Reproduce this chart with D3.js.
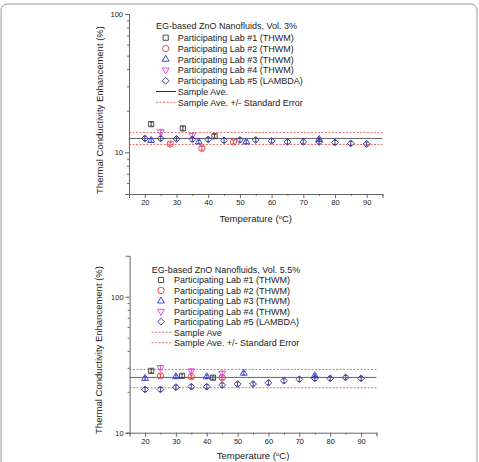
<!DOCTYPE html>
<html>
<head>
<meta charset="utf-8">
<script src="https://cdn.jsdelivr.net/npm/d3@7"></script>
<style>
  body { margin: 0; background: #fff; }
  svg { display: block; font-family: Arial, "Liberation Sans", sans-serif; }
</style>
</head>
<body>
<svg width="479" height="462"></svg>
<script>
// ---- data: Vol. 3% panel ----
const lab1Temp3 = [22, 32, 42];
const lab1Val3 = [16.0, 14.9, 13.1];
const lab2Temp3 = [28, 38, 48];
const lab2Val3 = [11.5, 10.7, 11.9];
const lab3Temp3 = [22, 37, 52, 75];
const lab3Val3 = [12.2, 11.9, 11.9, 12.4];
const lab4Temp3 = [25, 35];
const lab4Val3 = [14.1, 13.3];
const lab5Temp3 = [20, 25, 30, 35, 40, 45, 50, 55, 60, 65, 70, 75, 80, 85, 90];
const lab5Val3 = [12.6, 12.6, 12.5, 12.4, 12.4, 12.2, 12.3, 12.3, 12.1, 11.9, 11.9, 11.9, 11.8, 11.6, 11.5];
const lines3 = [12.6, 13.9, 11.4]; // ave, +SE, -SE

// ---- data: Vol. 5.5% panel ----
const lab1Temp55 = [22, 32, 42];
const lab1Val55 = [28.5, 26.2, 25.4];
const lab2Temp55 = [25, 35, 45];
const lab2Val55 = [26.2, 25.8, 25.4];
const lab3Temp55 = [20, 30, 40, 52, 75];
const lab3Val55 = [25.1, 25.8, 25.8, 27.4, 26.2];
const lab4Temp55 = [25, 35, 45];
const lab4Val55 = [30.1, 28.5, 27.4];
const lab5Temp55 = [20, 25, 30, 35, 40, 45, 50, 55, 60, 65, 70, 75, 80, 85, 90];
const lab5Val55 = [20.8, 20.8, 21.6, 21.8, 21.8, 22.4, 22.8, 22.8, 23.3, 24.1, 24.7, 25.1, 25.1, 25.5, 25.1];
const lines55 = [25.5, 29.2, 21.4];

const labNames = [
  "Participating Lab #1 (THWM)",
  "Participating Lab #2 (THWM)",
  "Participating Lab #3 (THWM)",
  "Participating Lab #4 (THWM)",
  "Participating Lab #5 (LAMBDA)"
];
const xTicks = [20, 30, 40, 50, 60, 70, 80, 90];

const svg = d3.select("svg");
const colors = ["#3a3a3a", "#e8383c", "#3535d0", "#e040e0", "#33338f"];
const symbols = [d3.symbolSquare2, d3.symbolCircle, d3.symbolTriangle2, d3.symbolTriangle2, d3.symbolDiamond2];
const symSizes = [34, 32, 34, 34, 30];
const errFrac = [0.03, 0.03, 0.03, 0.03, 0.035];

// outer frame
svg.append("rect")
  .attr("x", 1).attr("y", 4)
  .attr("width", 476).attr("height", 480)
  .attr("rx", 6)
  .attr("fill", "none")
  .attr("stroke", "#9a9a9a")
  .attr("stroke-width", 1);

function marker(g, i, x, y) {
  g.append("path")
    .attr("d", d3.symbol().type(symbols[i]).size(symSizes[i])())
    .attr("fill", "none")
    .attr("stroke", colors[i])
    .attr("stroke-width", 0.9)
    .attr("transform", `translate(${x},${y})` + (i === 3 ? " rotate(180)" : ""));
}

function drawPanel(cfg) {
  const x = d3.scaleLinear().domain([15, 95]).range(cfg.xRange);
  const y = d3.scaleLog().domain(cfg.yDomain).range(cfg.yRange);
  const g = svg.append("g");
  const axisColor = "#666";

  // reference lines
  cfg.lines.forEach((v, k) => {
    g.append("line")
      .attr("x1", cfg.xRange[0]).attr("x2", cfg.xRange[1])
      .attr("y1", y(v)).attr("y2", y(v))
      .attr("stroke", k === 0 ? "#666" : "#e04848")
      .attr("stroke-width", k === 0 ? 1 : 0.8)
      .attr("stroke-dasharray", k === 0 ? null : "2,1.5");
  });

  // series
  cfg.series.forEach((s, i) => {
    s.t.forEach((t, j) => {
      const v = s.v[j];
      const cx = x(t), cy = y(v);
      const e = v * errFrac[i];
      const y0 = y(v - e), y1 = y(v + e);
      g.append("line").attr("x1", cx).attr("x2", cx).attr("y1", y0).attr("y2", y1)
        .attr("stroke", colors[i]).attr("stroke-width", 0.9);
      [y0, y1].forEach(yy => g.append("line")
        .attr("x1", cx - 1.5).attr("x2", cx + 1.5).attr("y1", yy).attr("y2", yy)
        .attr("stroke", colors[i]).attr("stroke-width", 0.9));
      marker(g, i, cx, cy);
    });
  });

  // x axis
  const xAxisG = g.append("g")
    .attr("transform", `translate(0,${cfg.yRange[0]})`)
    .call(d3.axisBottom(x).tickValues(xTicks).tickSize(4).tickPadding(2).tickFormat(d3.format("d")));
  const xMinor = g.append("g")
    .attr("transform", `translate(0,${cfg.yRange[0]})`)
    .call(d3.axisBottom(x).tickValues([15, 25, 35, 45, 55, 65, 75, 85, 95]).tickSize(2).tickFormat(""));
  xMinor.select(".domain").remove();

  // y axis
  const yAxisG = g.append("g")
    .attr("transform", `translate(${cfg.xRange[0]},0)`)
    .call(d3.axisLeft(y).tickValues([10, 100]).tickSize(4).tickPadding(2).tickFormat(d3.format("d")));
  const yMinor = g.append("g")
    .attr("transform", `translate(${cfg.xRange[0]},0)`)
    .call(d3.axisLeft(y).tickValues(cfg.yMinor).tickSize(2).tickFormat(""));
  yMinor.select(".domain").remove();

  [xAxisG, xMinor, yAxisG, yMinor].forEach(a => {
    a.selectAll("path, line").attr("stroke", axisColor);
    a.selectAll("text").attr("font-size", 7.5).attr("fill", "#222")
      .attr("font-family", "Arial, 'Liberation Sans', sans-serif");
  });

  // axis titles
  const xt = g.append("text")
    .attr("x", (cfg.xRange[0] + cfg.xRange[1]) / 2)
    .attr("y", cfg.xTitleY)
    .attr("text-anchor", "middle")
    .attr("font-size", 9.5)
    .attr("fill", "#222");
  xt.append("tspan").text("Temperature (");
  xt.append("tspan").attr("font-size", 6).attr("dy", -3.5).text("o");
  xt.append("tspan").attr("dy", 3.5).text("C)");

  g.append("text")
    .attr("transform", `translate(${cfg.yTitleX},${cfg.yTitleY}) rotate(-90)`)
    .attr("text-anchor", "middle")
    .attr("font-size", 9.5)
    .attr("fill", "#222")
    .text("Thermal Conductivity Enhancement (%)");

  // legend
  const L = cfg.legend;
  g.append("text")
    .attr("x", L.titleX).attr("y", L.rowY[0] + 3.3)
    .attr("font-size", 9).attr("fill", "#222")
    .text(cfg.title);
  labNames.forEach((name, i) => {
    const ry = L.rowY[i + 1];
    marker(g, i, L.symX, ry);
    g.append("text").attr("x", L.textX).attr("y", ry + 3.3)
      .attr("font-size", 9).attr("fill", "#222").text(name);
  });
  cfg.legendLines.forEach((ln, k) => {
    const ry = L.rowY[6 + k];
    g.append("line")
      .attr("x1", L.lineX[0]).attr("x2", L.lineX[1])
      .attr("y1", ry).attr("y2", ry)
      .attr("stroke", ln.color).attr("stroke-width", ln.dash ? 0.8 : 1)
      .attr("stroke-dasharray", ln.dash ? "2,1.5" : null);
    g.append("text").attr("x", L.textX).attr("y", ry + 3.3)
      .attr("font-size", 9).attr("fill", "#222").text(ln.label);
  });
}

drawPanel({
  xRange: [129, 382.5],
  yDomain: [5, 100],
  yRange: [194, 14],
  yMinor: [6, 7, 8, 9, 20, 30, 40, 50, 60, 70, 80, 90],
  lines: lines3,
  series: [
    { t: lab1Temp3, v: lab1Val3 },
    { t: lab2Temp3, v: lab2Val3 },
    { t: lab3Temp3, v: lab3Val3 },
    { t: lab4Temp3, v: lab4Val3 },
    { t: lab5Temp3, v: lab5Val3 }
  ],
  xTitleY: 222,
  yTitleX: 103,
  yTitleY: 110,
  title: "EG-based ZnO Nanofluids, Vol. 3%",
  legend: {
    titleX: 156, symX: 165.7, textX: 177.7, lineX: [156, 176],
    rowY: [26, 37.7, 48.5, 59.3, 70, 80.8, 91.5, 102.3]
  },
  legendLines: [
    { label: "Sample Ave.", color: "#333", dash: false },
    { label: "Sample Ave. +/- Standard Error", color: "#e04848", dash: true }
  ]
});

drawPanel({
  xRange: [129.6, 376.5],
  yDomain: [10, 200],
  yRange: [432.7, 255.8],
  yMinor: [20, 30, 40, 50, 60, 70, 80, 90],
  lines: lines55,
  series: [
    { t: lab1Temp55, v: lab1Val55 },
    { t: lab2Temp55, v: lab2Val55 },
    { t: lab3Temp55, v: lab3Val55 },
    { t: lab4Temp55, v: lab4Val55 },
    { t: lab5Temp55, v: lab5Val55 }
  ],
  xTitleY: 459,
  yTitleX: 102,
  yTitleY: 350,
  title: "EG-based ZnO Nanofluids, Vol. 5.5%",
  legend: {
    titleX: 151.7, symX: 161, textX: 174, lineX: [151.7, 171.7],
    rowY: [269.3, 280, 290.5, 301, 311.3, 321.7, 332.2, 342.7]
  },
  legendLines: [
    { label: "Sample Ave", color: "#e04848", dash: true },
    { label: "Sample Ave. +/-  Standard Error", color: "#e04848", dash: true }
  ]
});
</script>
</body>
</html>
